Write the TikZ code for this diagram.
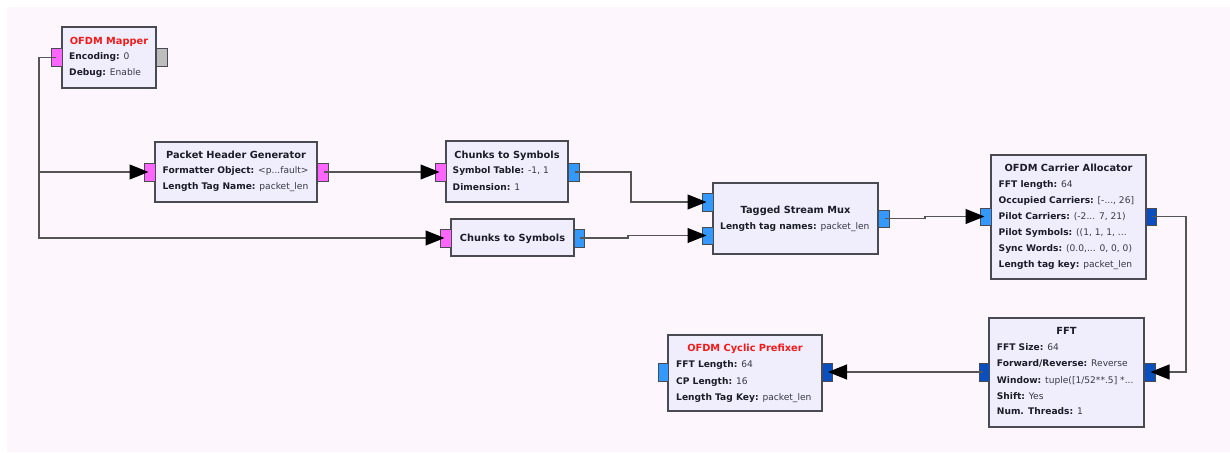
\documentclass[tikz,border=0pt]{standalone}
\usepackage{fontspec}
\setmainfont{DejaVu Sans}
\usetikzlibrary{arrows.meta,calc}
\definecolor{bgc}{HTML}{FDF7FD}
\definecolor{blkfill}{HTML}{F0EEFC}
\definecolor{blkline}{HTML}{4A4A52}
\definecolor{pinkport}{HTML}{FF66FF}
\definecolor{lblueport}{HTML}{3399FF}
\definecolor{dblueport}{HTML}{0A4FC0}
\definecolor{greyport}{HTML}{BDBDBD}
\definecolor{wirec}{HTML}{555555}
\definecolor{keyc}{HTML}{1C1C28}
\definecolor{valc}{HTML}{383846}
\definecolor{titlered}{HTML}{F21A1A}
\newcommand{\kv}[2]{{\bfseries\color{keyc}#1:} {\color{valc}#2}}
\tikzset{
  blk/.style={draw=blkline, fill=blkfill, line width=1.2pt, inner sep=0pt},
  port/.style={draw=blkline, line width=1pt, inner sep=0pt},
  txt/.style={inner sep=0pt, text height=6.9pt, text depth=0pt, font=\fontsize{9.1}{10}\selectfont},
  ttl/.style={txt, text height=7.2pt, font=\fontsize{9.8}{11}\selectfont\bfseries, text=keyc},
  rttl/.style={ttl, text=titlered},
  par/.style={txt, anchor=west},
  wire/.style={draw=wirec, line width=1.1pt},
  arr/.style={wire, -{Triangle[length=19pt,width=15pt,color=black,fill=black]}}
}
\newcommand{\boxat}[5]{\path[blk] (#2,#3) rectangle (#4,#5) node[pos=0.5] (#1) {};}
\begin{document}
\begin{tikzpicture}[x=1pt,y=-1pt]
\useasboundingbox (0,0) rectangle (1230,452);
\fill[white] (0,0) rectangle (1230,452);
\fill[bgc] (7,7) rectangle (1230,452);

% ---------- blocks ----------
\boxat{mapper}{62}{27}{156}{88}
\boxat{phg}{155}{142}{317}{202}
\boxat{cts}{446}{141}{568}{202}
\boxat{ctsb}{451}{219}{574}{256}
\boxat{mux}{713}{183}{878}{254}
\boxat{ca}{991}{155}{1146}{279}
\boxat{fft}{989}{318}{1144}{427}
\boxat{cp}{668}{335}{822}{411}

% ---------- ports ----------
\path[port,fill=pinkport] (51,49) rectangle (62,66) node[pos=0.5] (mapIn) {};
\path[port,fill=greyport] (156,49) rectangle (167,66) node[pos=0.5] (mapOut) {};
\path[port,fill=pinkport] (144,163) rectangle (155,181) node[pos=0.5] (phgIn) {};
\path[port,fill=pinkport] (317,163) rectangle (328,181) node[pos=0.5] (phgOut) {};
\path[port,fill=pinkport] (435,163) rectangle (446,181) node[pos=0.5] (ctsIn) {};
\path[port,fill=lblueport] (568,163) rectangle (579,181) node[pos=0.5] (ctsOut) {};
\path[port,fill=pinkport] (440,229) rectangle (451,247) node[pos=0.5] (ctsbIn) {};
\path[port,fill=lblueport] (574,229) rectangle (584,247) node[pos=0.5] (ctsbOut) {};
\path[port,fill=lblueport] (702,193) rectangle (713,211) node[pos=0.5] (muxInA) {};
\path[port,fill=lblueport] (702,227) rectangle (713,244) node[pos=0.5] (muxInB) {};
\path[port,fill=lblueport] (878,210) rectangle (889,227) node[pos=0.5] (muxOut) {};
\path[port,fill=lblueport] (980,208) rectangle (991,225) node[pos=0.5] (caIn) {};
\path[port,fill=dblueport] (1146,208) rectangle (1156,225) node[pos=0.5] (caOut) {};
\path[port,fill=dblueport] (979,363) rectangle (989,381) node[pos=0.5] (fftIn) {};
\path[port,fill=dblueport] (1144,363) rectangle (1155,381) node[pos=0.5] (fftOut) {};
\path[port,fill=lblueport] (658,363) rectangle (668,381) node[pos=0.5] (cpIn) {};
\path[port,fill=dblueport] (822,363) rectangle (832,381) node[pos=0.5] (cpOut) {};

% ---------- texts ----------
\node[rttl] (mapT) at (109,41) {OFDM Mapper};
\node[par] (mapA) at (69,56.5) {\kv{Encoding}{0}};
\node[par] (mapB) at (69,72.5) {\kv{Debug}{Enable}};

\node[ttl] (phgT) at (236,155) {Packet Header Generator};
\node[par] (phgA) at (162.5,170.5) {\kv{Formatter Object}{<p...fault>}};
\node[par] (phgB) at (162.5,186.5) {\kv{Length Tag Name}{packet\_len}};

\node[ttl] (ctsT) at (507,155) {Chunks to Symbols};
\node[par] (ctsA) at (452.5,170.5) {\kv{Symbol Table}{-1, 1}};
\node[par] (ctsB) at (452.5,187) {\kv{Dimension}{1}};

\node[ttl] (ctsbT) at (512.5,237.5) {Chunks to Symbols};

\node[ttl] (muxT) at (795.5,209.5) {Tagged Stream Mux};
\node[par] (muxA) at (720,225.7) {\kv{Length tag names}{packet\_len}};

\node[ttl] (caT) at (1068.5,167.7) {OFDM Carrier Allocator};
\node[par] (caA) at (998.5,183.7) {\kv{FFT length}{64}};
\node[par] (caB) at (998.5,200) {\kv{Occupied Carriers}{[-..., 26]}};
\node[par] (caC) at (998.5,216) {\kv{Pilot Carriers}{(-2... 7, 21)}};
\node[par] (caD) at (998.5,231.7) {\kv{Pilot Symbols}{((1, 1, 1, ...}};
\node[par] (caE) at (998.5,248.3) {\kv{Sync Words}{(0.0,... 0, 0, 0)}};
\node[par] (caF) at (998.5,264) {\kv{Length tag key}{packet\_len}};

\node[ttl] (fftT) at (1066.5,331.3) {FFT};
\node[par] (fftA) at (996.7,347.3) {\kv{FFT Size}{64}};
\node[par] (fftB) at (996.7,363.3) {\kv{Forward/Reverse}{Reverse}};
\node[par] (fftC) at (996.7,380) {\kv{Window}{tuple([1/52**.5] *...}};
\node[par] (fftD) at (996.7,395.7) {\kv{Shift}{Yes}};
\node[par] (fftE) at (996.7,411) {\kv{Num. Threads}{1}};

\node[rttl] (cpT) at (745,348.3) {OFDM Cyclic Prefixer};
\node[par] (cpA) at (676,364.3) {\kv{FFT Length}{64}};
\node[par] (cpB) at (676,380.7) {\kv{CP Length}{16}};
\node[par] (cpC) at (676,396.7) {\kv{Length Tag Key}{packet\_len}};

% ---------- connectors ----------
\coordinate (tap) at (39,172);
\coordinate (bendA) at (631,172);
\coordinate (bendB) at (628,238);
\coordinate (bendC) at (925,218.5);
\coordinate (bendD) at (1186,216.5);

\draw[wire] (mapIn.west) -| (tap);
\draw[arr] (tap) -- (phgIn.west);
\draw[arr] (tap) |- (ctsbIn.west);
\draw[arr] (phgOut.east) -- (ctsIn.west);
\draw[arr] (ctsOut.east) -- (bendA) |- (muxInA.west);
\draw[arr] (ctsbOut.east) -- (bendB) -- (bendB |- muxInB.west) -- (muxInB.west);
\draw[arr] (muxOut.east) -- (bendC) -- (bendC |- caIn.west) -- (caIn.west);
\draw[arr] (caOut.east) -- (bendD) |- (fftOut.east);
\draw[arr] (fftIn.west) -- (cpOut.east);
\end{tikzpicture}
\end{document}
